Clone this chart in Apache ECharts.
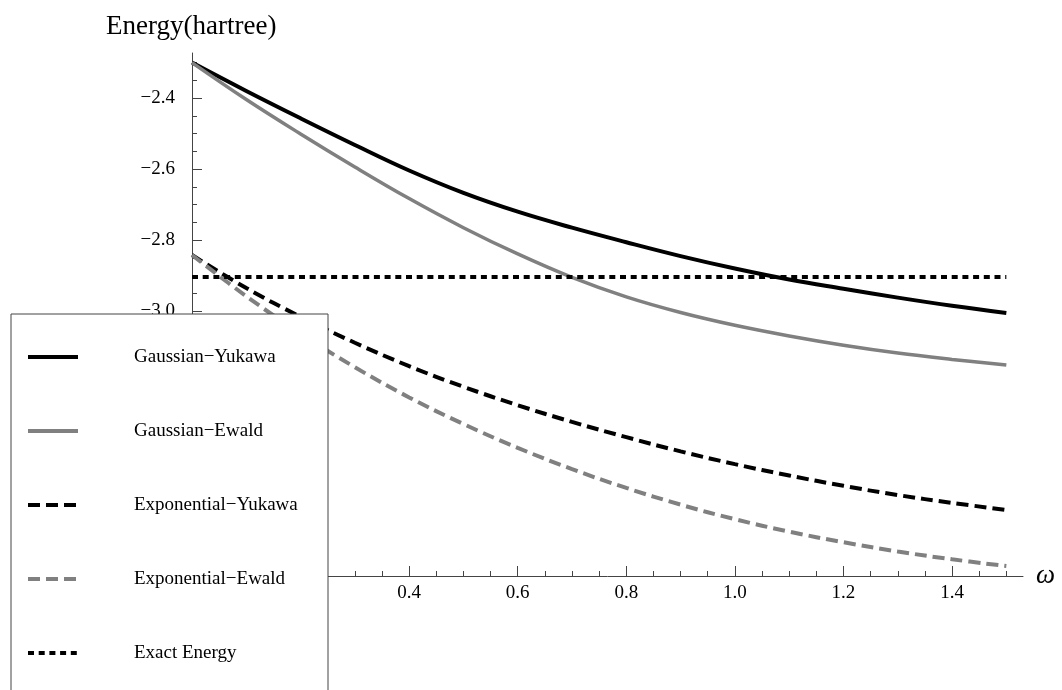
<!DOCTYPE html>
<html>
<head>
<meta charset="utf-8">
<script src="https://cdn.jsdelivr.net/npm/echarts@6/dist/echarts.min.js"></script>
<style>
html,body{margin:0;padding:0;background:#fff;}
#chart{width:1062px;height:690px;}
</style>
</head>
<body>
<div id="chart"></div>
<script>
// omega values
const omega = [0, 0.1, 0.2, 0.3, 0.4, 0.5, 0.6, 0.7, 0.8, 0.9, 1.0, 1.1, 1.2, 1.3, 1.4, 1.5];
const gaussianYukawa    = [-2.300, -2.380, -2.457, -2.532, -2.604, -2.667, -2.720, -2.765, -2.806, -2.845, -2.880, -2.911, -2.937, -2.962, -2.985, -3.005];
const gaussianEwald     = [-2.300, -2.404, -2.501, -2.594, -2.683, -2.765, -2.839, -2.905, -2.960, -3.004, -3.040, -3.070, -3.096, -3.118, -3.136, -3.152];
const exponentialYukawa = [-2.842, -2.935, -3.016, -3.089, -3.155, -3.213, -3.265, -3.312, -3.355, -3.395, -3.431, -3.463, -3.492, -3.518, -3.540, -3.560];
const exponentialEwald  = [-2.842, -2.958, -3.063, -3.158, -3.243, -3.318, -3.385, -3.445, -3.498, -3.545, -3.586, -3.621, -3.651, -3.677, -3.699, -3.718];
const exactEnergy = -2.9037;
const exactX = [0, 1.5];

const seriesNames = ['Gaussian\u2212Yukawa', 'Gaussian\u2212Ewald', 'Exponential\u2212Yukawa', 'Exponential\u2212Ewald', 'Exact Energy'];

const xTickLabels = [0.2, 0.4, 0.6, 0.8, 1.0, 1.2, 1.4];
const yTickLabels = [-3.6, -3.4, -3.2, -3.0, -2.8, -2.6, -2.4];

const X_MIN = 0, X_MAX = 1.5307;
const Y_MIN = -3.746, Y_MAX = -2.273;

function minorList(lo, hi, step, majors) {
  const out = [];
  for (let k = Math.ceil(lo / step - 1e-9); k * step <= hi + 1e-9; k++) {
    const v = Math.round(k * step * 1000) / 1000;
    if (!majors.some(m => Math.abs(m - v) < 1e-6)) out.push(v);
  }
  return out;
}
const xMinor = minorList(0.05, 1.5, 0.05, xTickLabels.concat([0]));
const yMinor = minorList(-3.7, -2.3, 0.05, yTickLabels);

const pair = arr => omega.map((x, i) => [x, arr[i]]);

const font = '"Liberation Serif", "DejaVu Serif", serif';
const axisColor = '#444';

const chart = echarts.init(document.getElementById('chart'), null, {renderer: 'canvas'});

const option = {
  animation: false,
  backgroundColor: '#fff',
  grid: {left: 192, top: 53, width: 831, height: 523, containLabel: false},
  xAxis: [
    {
      type: 'value', min: X_MIN, max: X_MAX, position: 'bottom',
      axisLine: {show: true, onZero: false, lineStyle: {color: axisColor, width: 1}},
      axisTick: {show: true, inside: true, length: 10, customValues: xTickLabels, lineStyle: {color: axisColor}},
      axisLabel: {show: true, customValues: xTickLabels, margin: 8, color: '#000', fontFamily: font, fontSize: 19,
        formatter: v => v.toFixed(1)},
      splitLine: {show: false}
    },
    {
      type: 'value', min: X_MIN, max: X_MAX, position: 'bottom',
      axisLine: {show: false, onZero: false},
      axisTick: {show: true, inside: true, length: 5, customValues: xMinor, lineStyle: {color: axisColor}},
      axisLabel: {show: false},
      splitLine: {show: false}
    }
  ],
  yAxis: [
    {
      type: 'value', min: Y_MIN, max: Y_MAX, position: 'left',
      axisLine: {show: true, onZero: false, lineStyle: {color: axisColor, width: 1}},
      axisTick: {show: true, inside: true, length: 10, customValues: yTickLabels, lineStyle: {color: axisColor}},
      axisLabel: {show: true, customValues: yTickLabels, margin: 17, color: '#000', fontFamily: font, fontSize: 19,
        formatter: v => (v < 0 ? '\u2212' : '') + Math.abs(v).toFixed(1)},
      splitLine: {show: false}
    },
    {
      type: 'value', min: Y_MIN, max: Y_MAX, position: 'left',
      axisLine: {show: false, onZero: false},
      axisTick: {show: true, inside: true, length: 5, customValues: yMinor, lineStyle: {color: axisColor}},
      axisLabel: {show: false},
      splitLine: {show: false}
    }
  ],
  legend: {
    orient: 'vertical', left: 26, top: 347, padding: 0, z: 60,
    itemWidth: 50, itemHeight: 14, itemGap: 54,
    selectedMode: false,
    data: seriesNames,
    itemStyle: {opacity: 0, color: 'rgba(0,0,0,0)', borderWidth: 0},
    lineStyle: {width: 4},
    textStyle: {fontFamily: font, fontSize: 19, color: '#000', lineHeight: 20, padding: [0, 0, 0, 51]}
  },
  graphic: [
    {type: 'rect', z: 50, shape: {x: 11, y: 314, width: 317, height: 400},
     style: {fill: '#fff', stroke: '#444', lineWidth: 1}},
    {type: 'text', z: 50, left: 106, top: 13,
     style: {text: 'Energy(hartree)', font: '27px ' + font, fill: '#000'}},
    {type: 'text', z: 50, left: 1036, top: 562,
     style: {text: '\u03c9', font: 'italic 27px ' + font, fill: '#000'}}
  ],
  series: [
    {name: seriesNames[0], type: 'line', data: pair(gaussianYukawa), showSymbol: false, symbol: 'none', smooth: 0.4,
     lineStyle: {color: '#000', width: 4, type: 'solid'}, itemStyle: {color: '#000'}},
    {name: seriesNames[1], type: 'line', data: pair(gaussianEwald), showSymbol: false, symbol: 'none', smooth: 0.4,
     lineStyle: {color: '#808080', width: 3.5, type: 'solid'}, itemStyle: {color: '#808080'}},
    {name: seriesNames[2], type: 'line', data: pair(exponentialYukawa), showSymbol: false, symbol: 'none', smooth: 0.4,
     lineStyle: {color: '#000', width: 4, type: [12, 6]}, itemStyle: {color: '#000'}},
    {name: seriesNames[3], type: 'line', data: pair(exponentialEwald), showSymbol: false, symbol: 'none', smooth: 0.4,
     lineStyle: {color: '#808080', width: 4, type: [12, 6]}, itemStyle: {color: '#808080'}},
    {name: seriesNames[4], type: 'line', data: exactX.map(x => [x, exactEnergy]), showSymbol: false, symbol: 'none',
     lineStyle: {color: '#000', width: 4, type: [6, 4.7]}, itemStyle: {color: '#000'}}
  ]
};
chart.setOption(option);
</script>
</body>
</html>
